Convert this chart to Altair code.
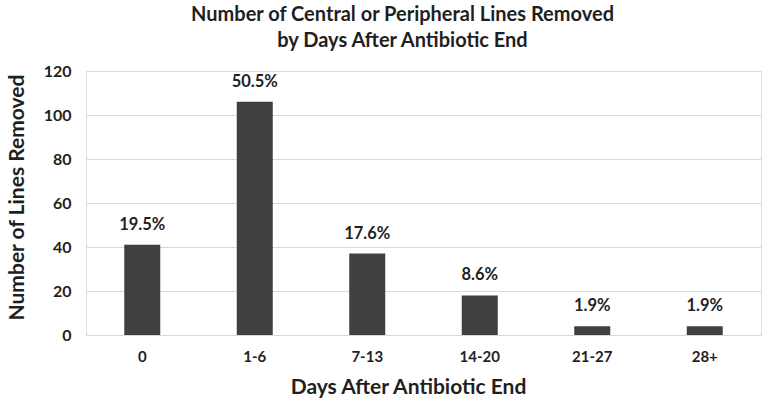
import altair as alt
import pandas as pd

categories = ["0", "1-6", "7-13", "14-20", "21-27", "28+"]
counts = [41, 106, 37, 18, 4, 4]
pct_labels = ["19.5%", "50.5%", "17.6%", "8.6%", "1.9%", "1.9%"]
y_ticks = [0, 20, 40, 60, 80, 100, 120]

df = pd.DataFrame({"cat": categories, "n": counts, "pct": pct_labels})

FONT = "Lato"
TXT = "#1f1f1f"

base = alt.Chart(df).encode(
    x=alt.X("cat:N", sort=categories, title="Days After Antibiotic End",
            scale=alt.Scale(paddingInner=0.68, paddingOuter=0.34),
            axis=alt.Axis(labelAngle=0, labelFont=FONT, labelFontSize=15, labelFontWeight="bold",
                          labelColor=TXT, labelPadding=14, ticks=False, domainColor="#d9d9d9",
                          titleFont=FONT, titleFontSize=21, titleFontWeight="bold", titleColor=TXT,
                          titlePadding=12, titleX=322)),
    y=alt.Y("n:Q", title="Number of Lines Removed",
            scale=alt.Scale(domain=[0, 120]),
            axis=alt.Axis(values=y_ticks, labelFont=FONT, labelFontSize=16, labelFontWeight="bold",
                          labelColor=TXT, labelPadding=15, ticks=False, domain=False,
                          gridColor="#d9d9d9", titleFont=FONT, titleFontSize=21,
                          titleFontWeight="bold", titleColor=TXT, titlePadding=16, titleY=126)),
)

bars = base.mark_bar(color="#404040")
labels = base.mark_text(dy=-12, font=FONT, fontSize=16.5, fontWeight="bold", color=TXT,
                        baseline="bottom").encode(text="pct:N")

chart = (bars + labels).properties(
    width=675, height=264,
    title=alt.Title(["Number of Central or Peripheral Lines Removed", "by Days After Antibiotic End"],
                    font=FONT, fontSize=20, fontWeight="bold", color=TXT, lineHeight=26,
                    anchor="middle", frame="group", offset=12, dx=-21),
    autosize=alt.AutoSizeParams(type="none"),
    padding={"left": 86, "top": 71, "right": 4, "bottom": 70},
).configure_view(stroke=None).configure(background="white")

chart.save("out.html", embed_options={"renderer": "svg", "actions": False})
